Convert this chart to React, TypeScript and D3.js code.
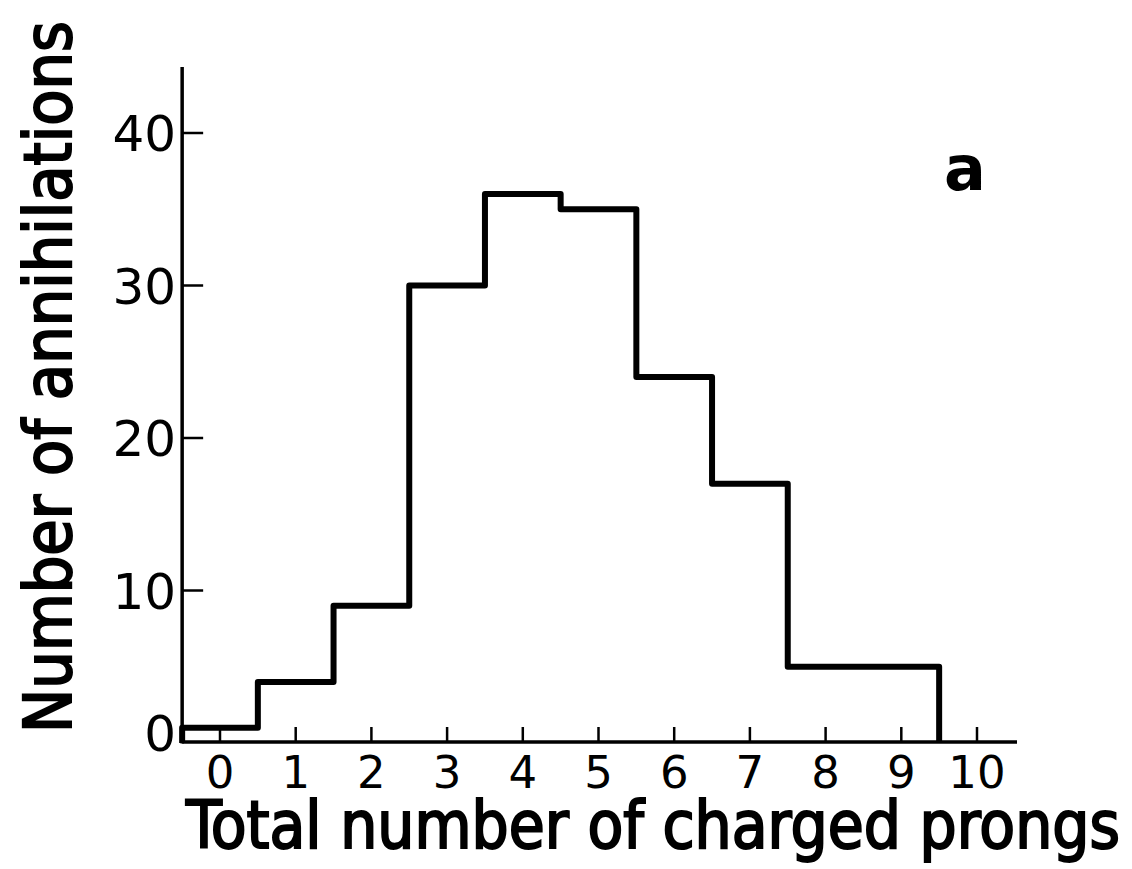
import React from "react";
import * as d3 from "d3";

const binCenters = [0, 1, 2, 3, 4, 5, 6, 7, 8, 9];
const counts = [1, 4, 9, 30, 36, 35, 24, 17, 5, 5];
const xTicks = [0, 1, 2, 3, 4, 5, 6, 7, 8, 9, 10];
const yTicks = [10, 20, 30, 40];
const yTickLabels = ["0", "10", "20", "30", "40"];
const xTitle = "Total number of charged prongs";
const yTitle = "Number of annihilations";
const panelLabel = "a";

export default function App() {
  const W = 1132, H = 869;
  const x = d3.scaleLinear().domain([0, 10]).range([220, 977]);
  const y = d3.scaleLinear().domain([0, 40]).range([743, 133]);
  const axisY = 742;
  const axisX = x(-0.5);

  const pts: [number, number][] = [];
  pts.push([x(binCenters[0] - 0.5), y(0)]);
  binCenters.forEach((c, i) => {
    pts.push([x(c - 0.5), y(counts[i])]);
    pts.push([x(c + 0.5), y(counts[i])]);
  });
  pts.push([x(binCenters[binCenters.length - 1] + 0.5), y(0)]);
  const line = d3.line<[number, number]>().x(d => d[0]).y(d => d[1]);

  const font = "'DejaVu Sans', 'Liberation Sans', sans-serif";
  const titleFont = "'DejaVu Sans Condensed', 'DejaVu Sans', sans-serif";

  return (
    <svg width={W} height={H} style={{ position: "absolute", left: 0, top: 0, background: "#fff" }}>
      <rect width={W} height={H} fill="#fff" />
      {/* axes */}
      <line x1={axisX} x2={axisX} y1={67} y2={axisY + 1.5} stroke="#000" strokeWidth={3.5} />
      <line x1={axisX} x2={1017} y1={axisY} y2={axisY} stroke="#000" strokeWidth={3.5} />
      {xTicks.map(t => (
        <line key={"xt" + t} x1={x(t)} x2={x(t)} y1={axisY} y2={axisY - 15} stroke="#000" strokeWidth={2.5} />
      ))}
      {yTicks.map(t => (
        <line key={"yt" + t} x1={axisX} x2={axisX + 21} y1={y(t)} y2={y(t)} stroke="#000" strokeWidth={2.5} />
      ))}
      {/* histogram */}
      <path d={line(pts) || ""} fill="none" stroke="#000" strokeWidth={6} strokeLinejoin="round" />
      {/* y tick labels */}
      {[0, ...yTicks].map((t, i) => (
        <text key={"yl" + t} x={176} y={t === 0 ? y(t) - 10 : y(t)} dy="0.36em" textAnchor="end"
          fontFamily={font} fontSize={50} fill="#000">{yTickLabels[i]}</text>
      ))}
      {/* x tick labels */}
      {xTicks.map(t => (
        <text key={"xl" + t} x={x(t)} y={788} textAnchor="middle"
          fontFamily={font} fontSize={45} fill="#000">{String(t)}</text>
      ))}
      {/* titles */}
      <text x={186} y={848} fontFamily={titleFont} fontSize={65} fill="#000" stroke="#000" strokeWidth={2}
        textLength={934} lengthAdjust="spacingAndGlyphs">{xTitle}</text>
      <text transform={`translate(71,733) rotate(-90)`} fontFamily={titleFont} fontSize={65} fill="#000" stroke="#000" strokeWidth={2}
        textLength={712} lengthAdjust="spacingAndGlyphs">{yTitle}</text>
      <text x={965} y={190} textAnchor="middle" fontFamily={font} fontSize={62} fontWeight="bold" fill="#000">{panelLabel}</text>
    </svg>
  );
}
